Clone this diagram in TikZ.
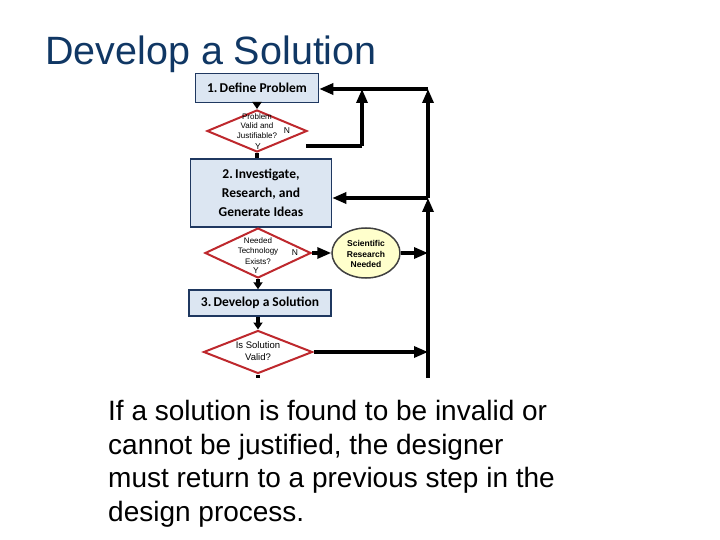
\documentclass[tikz,border=0pt]{standalone}
\usepackage{fontspec}
\setmainfont{Liberation Sans}
\newfontfamily\calib{Carlito}
\usetikzlibrary{shapes.geometric,arrows.meta}
\definecolor{titleblue}{RGB}{16,55,100}
\definecolor{boxnavy}{RGB}{31,56,96}
\definecolor{boxfill}{RGB}{220,230,242}
\definecolor{dred}{RGB}{190,40,45}
\definecolor{lyellow}{RGB}{255,255,204}
\definecolor{egray}{RGB}{64,64,64}
\begin{document}
\begin{tikzpicture}[x=1pt,y=-1pt,
  stepbox/.style={draw=boxnavy,line width=1.5pt,fill=boxfill,inner sep=0pt,align=center,
    font=\calib\bfseries\fontsize{13.5}{19}\selectfont},
  decision/.style={diamond,draw=dred,line width=2pt,fill=white,inner sep=0pt},
  dtext/.style={align=center,inner sep=0pt,font=\fontsize{8.5}{10.5}\selectfont},
  yn/.style={inner sep=0pt,font=\fontsize{8.5}{10}\selectfont},
  conn/.style={line width=3.2pt,black},
  bigtip/.tip={Triangle[length=14pt,width=11pt]},
  smalltip/.tip={Triangle[length=7pt,width=9pt]}
]
\useasboundingbox (0,0) rectangle (720,540);

\node[anchor=base west,inner sep=0pt,text=titleblue,font=\fontsize{39.5}{40}\selectfont] (title) at (45,65) {Develop a Solution};

\node[stepbox,minimum width=123pt,minimum height=29pt] (b1) at (257,88) {1.\,Define Problem};
\node[decision,minimum width=100pt,minimum height=42pt] (d1) at (257,131) {};
\node[dtext,font=\fontsize{8}{9.6}\selectfont] (d1t) at (257,126) {Problem\\Valid and\\Justifiable?};
\node[yn] (d1n) at (287,131) {N};
\node[yn] (d1y) at (258,146.5) {Y};

\node[stepbox,minimum width=141pt,minimum height=68pt] (b2) at (261,193) {2.\,Investigate,\\Research, and\\Generate Ideas};

\node[decision,minimum width=106pt,minimum height=50pt] (d2) at (258,253) {};
\node[dtext,font=\fontsize{8}{10.5}\selectfont] (d2t) at (258,251) {Needed\\Technology\\Exists?};
\node[yn] (d2n) at (295,253) {N};
\node[yn] (d2y) at (256,271) {Y};

\node[ellipse,draw=egray,line width=1.5pt,fill=lyellow,minimum width=68pt,minimum height=50pt,inner sep=0pt] (sci) at (366,253) {};
\node[dtext,font=\bfseries\fontsize{8.5}{10.5}\selectfont] (scit) at (366,254) {Scientific\\Research\\Needed};

\node[stepbox,minimum width=142pt,minimum height=26pt] (b3) at (260,303) {3.\,Develop a Solution};

\node[decision,minimum width=109pt,minimum height=43pt] (d3) at (258,352) {};
\node[dtext,font=\fontsize{9.5}{12}\selectfont] (d3t) at (258,351) {Is Solution\\Valid?};

\coordinate (rtop) at (428,89);
\coordinate (rmid) at (428,198);
\coordinate (rbot) at (428,378);
\coordinate (ltop) at (362,89);
\coordinate (lbot) at (362,146);
\coordinate (d1out) at (306,146);
\coordinate (d3stub) at (258,378);

\draw[conn,-{smalltip}] (b1.south) -- (b1.south -| d1.north) -- (d1.north);
\draw[conn] (d1.south) -- (d1.south |- b2.north);
\draw[conn] (d1out) -- (lbot);
\draw[conn,-{bigtip}] (lbot) -- (ltop);
\draw[conn,-{bigtip}] (rtop) -- (b1.east |- rtop);
\draw[conn,-{bigtip}] (rbot) -- (rmid);
\draw[conn,-{bigtip}] (rmid) -- (rtop);
\draw[conn,-{bigtip}] (rmid) -- (rmid -| b2.east);
\draw[conn,-{bigtip}] (d2.east) -- (sci.west);
\draw[conn,-{bigtip}] (sci.east) -- (sci.east -| rbot);
\draw[conn,-{smalltip}] (d2.south) -- (d2.south |- b3.north);
\draw[conn,-{smalltip}] (b3.south -| d3.north) -- (d3.north);
\draw[conn,-{bigtip}] (d3.east) -- (d3.east -| rbot);
\draw[conn] (d3.south) -- (d3stub);

\node[anchor=north west,inner sep=0pt,align=left,font=\fontsize{28}{33.7}\selectfont] (para) at (108,400)
 {If a solution is found to be invalid or\\cannot be justified, the designer\\must return to a previous step in the\\design process.};
\end{tikzpicture}
\end{document}
